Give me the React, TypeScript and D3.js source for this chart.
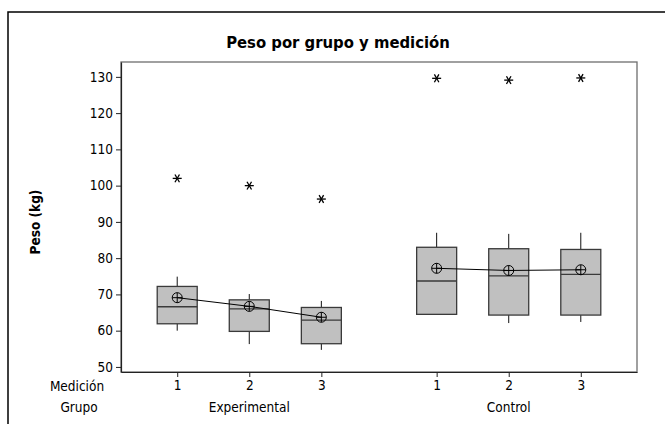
import React from 'react';
import * as d3 from 'd3';

// data
const grupos = ["Experimental", "Control"];
const mediciones = ["1", "2", "3"];
const q1 = [61.9, 59.8, 56.4, 64.5, 64.3, 64.3];
const medianas = [66.6, 66.0, 62.9, 73.7, 75.1, 75.5];
const q3 = [72.2, 68.5, 66.4, 83.0, 82.6, 82.4];
const bigoteBajo = [60.0, 56.3, 54.7, 64.4, 62.1, 62.4];
const bigoteAlto = [74.9, 70.1, 68.2, 87.0, 86.7, 87.0];
const medias = [69.1, 66.7, 63.7, 77.2, 76.6, 76.8];
const atipicos = [102, 100, 96.3, 129.6, 129.1, 129.7];
const yTicks = [50, 60, 70, 80, 90, 100, 110, 120, 130];

const width = 665;
const height = 424;
const font = "'DejaVu Sans Condensed', 'DejaVu Sans', sans-serif";

export default function App() {
    const ref = React.useRef<SVGSVGElement>(null);

    React.useEffect(() => {
        const svg = d3.select(ref.current);
        svg.selectAll('*').remove();

        const marginLeft = 121, marginRight = 28, marginTop = 62, marginBottom = 52;
        const plotRight = width - marginRight;
        const plotBottom = height - marginBottom;

        // position of each box: groups separated by a wider gap
        const slot = (i: number) => Math.floor(i / 3) * 3.6 + (i % 3) + 1;
        const xScale = d3.scaleLinear([0.22, 7.38], [marginLeft, plotRight]);
        const yScale = d3.scaleLinear([48.6, 134.1], [plotBottom, marginTop]);
        const boxW = 40;

        const data = d3.range(q1.length).map(i => ({
            i,
            grupo: grupos[Math.floor(i / 3)],
            medicion: mediciones[i % 3],
            x: xScale(slot(i)),
        }));

        // outer frame
        svg.append("rect")
            .attr("x", 8).attr("y", 12)
            .attr("width", 680).attr("height", 430)
            .attr("fill", "none").attr("stroke", "#000").attr("stroke-width", 1.5);

        // title
        svg.append("text")
            .attr("x", 338).attr("y", 48)
            .attr("text-anchor", "middle")
            .attr("font-family", font).attr("font-size", 16.5).attr("font-weight", "bold")
            .text("Peso por grupo y medición");

        // plot frame
        svg.append("rect")
            .attr("x", marginLeft).attr("y", marginTop)
            .attr("width", plotRight - marginLeft).attr("height", plotBottom - marginTop)
            .attr("fill", "none").attr("stroke", "#6e6e6e").attr("stroke-width", 1.3);

        // y axis
        svg.append("g")
            .attr("transform", `translate(${marginLeft},0)`)
            .call(d3.axisLeft(yScale).tickValues(yTicks).tickSize(5).tickPadding(3).tickSizeOuter(0))
            .call(g => g.select(".domain").attr("stroke", "#222").attr("stroke-width", 1.2))
            .call(g => g.selectAll(".tick line").attr("stroke", "#222"))
            .call(g => g.selectAll("text").attr("font-family", font).attr("font-size", 13.5).attr("fill", "#000"));

        // x axis (medición)
        svg.append("g")
            .attr("transform", `translate(0,${plotBottom})`)
            .call(d3.axisBottom(xScale).tickValues(data.map(d => slot(d.i))).tickFormat((_, k) => data[k].medicion)
                .tickSize(5).tickPadding(3).tickSizeOuter(0))
            .call(g => g.select(".domain").attr("stroke", "#222").attr("stroke-width", 1.2))
            .call(g => g.selectAll(".tick line").attr("stroke", "#222"))
            .call(g => g.selectAll("text").attr("font-family", font).attr("font-size", 13.5).attr("fill", "#000"));

        // row labels
        const rows = svg.append("g").attr("font-family", font).attr("font-size", 13.5).attr("text-anchor", "middle");
        rows.append("text").attr("x", 77).attr("y", 391).text("Medición");
        rows.append("text").attr("x", 79).attr("y", 412).text("Grupo");
        rows.selectAll(".grp")
            .data(grupos)
            .join("text")
            .attr("x", (_, g) => xScale(slot(g * 3 + 1)))
            .attr("y", 412)
            .text(d => d);

        // y label
        svg.append("text")
            .attr("transform", `translate(40,222) rotate(-90)`)
            .attr("text-anchor", "middle")
            .attr("font-family", font).attr("font-size", 13.5).attr("font-weight", "bold")
            .text("Peso (kg)");

        const boxes = svg.append("g").selectAll("g").data(data).join("g");

        // whiskers
        boxes.append("line")
            .attr("x1", d => d.x).attr("x2", d => d.x)
            .attr("y1", d => yScale(bigoteAlto[d.i])).attr("y2", d => yScale(q3[d.i]))
            .attr("stroke", "#111");
        boxes.append("line")
            .attr("x1", d => d.x).attr("x2", d => d.x)
            .attr("y1", d => yScale(q1[d.i])).attr("y2", d => yScale(bigoteBajo[d.i]))
            .attr("stroke", "#111");

        // boxes
        boxes.append("rect")
            .attr("x", d => d.x - boxW / 2)
            .attr("y", d => yScale(q3[d.i]))
            .attr("width", boxW)
            .attr("height", d => yScale(q1[d.i]) - yScale(q3[d.i]))
            .attr("fill", "#c0c0c0").attr("stroke", "#3a3a3a").attr("stroke-width", 1.3);
        boxes.append("line")
            .attr("x1", d => d.x - boxW / 2).attr("x2", d => d.x + boxW / 2)
            .attr("y1", d => yScale(medianas[d.i])).attr("y2", d => yScale(medianas[d.i]))
            .attr("stroke", "#3a3a3a").attr("stroke-width", 1.3);

        // mean connect lines per group
        const line = d3.line<{ i: number, x: number }>().x(d => d.x).y(d => yScale(medias[d.i]));
        svg.append("g").selectAll("path")
            .data(d3.groups(data, d => d.grupo).map(([, v]) => v))
            .join("path")
            .attr("d", line)
            .attr("fill", "none").attr("stroke", "#000").attr("stroke-width", 1);

        // mean symbols (circle with cross)
        const r = 5;
        const means = svg.append("g").selectAll("g").data(data).join("g")
            .attr("transform", d => `translate(${d.x},${yScale(medias[d.i])})`)
            .attr("stroke", "#000").attr("stroke-width", 1).attr("fill", "none");
        means.append("circle").attr("r", r);
        means.append("line").attr("x1", -r).attr("x2", r);
        means.append("line").attr("y1", -r).attr("y2", r);

        // outliers (asterisk)
        const a = 4.5;
        const stars = svg.append("g").selectAll("g").data(data).join("g")
            .attr("transform", d => `translate(${d.x},${yScale(atipicos[d.i])})`)
            .attr("stroke", "#000").attr("stroke-width", 1.3);
        [0, 60, 120].forEach(angle => {
            const rad = angle * Math.PI / 180;
            stars.append("line")
                .attr("x1", -a * Math.cos(rad)).attr("y1", -a * Math.sin(rad))
                .attr("x2", a * Math.cos(rad)).attr("y2", a * Math.sin(rad));
        });
    }, []);

    return (
        <div style={{ position: "absolute", left: 0, top: 0 }}>
            <svg ref={ref} width={width} height={height} style={{ display: "block", background: "#fff" }} />
        </div>
    );
}
